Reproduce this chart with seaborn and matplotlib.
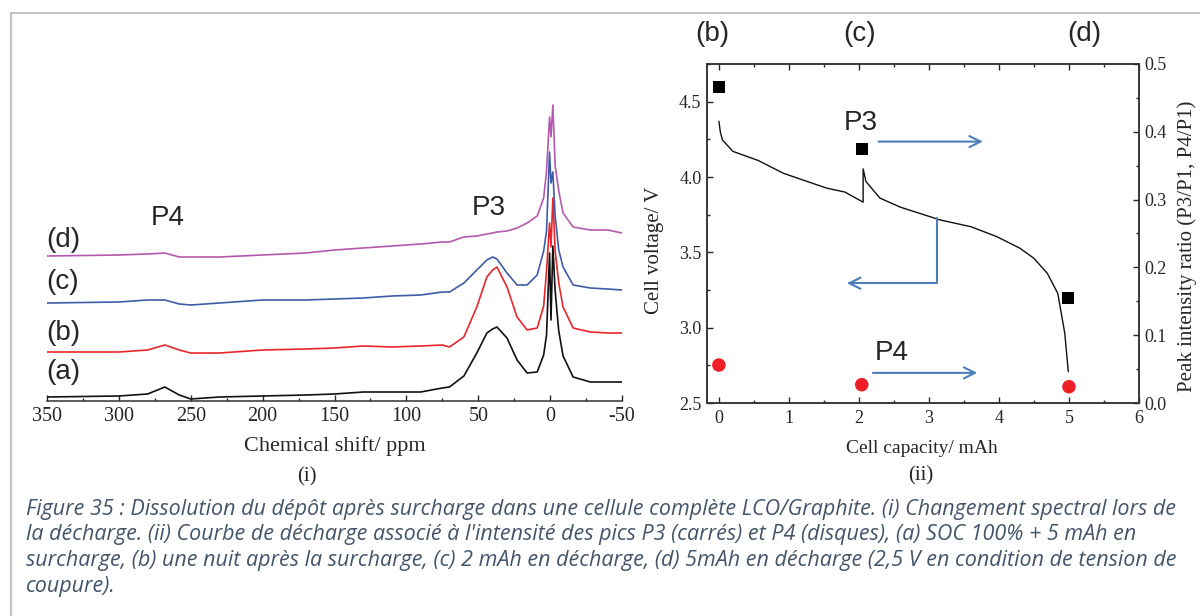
import numpy as np
import pandas as pd
import matplotlib
matplotlib.use("Agg")
import matplotlib.pyplot as plt
import seaborn as sns
from matplotlib.ticker import MultipleLocator
from matplotlib.lines import Line2D

# ---- (i) NMR spectra (intensity in arbitrary units) ----
ppm = [350, 300, 280, 268, 258, 250, 230, 200, 170, 150, 130, 110, 90, 75, 70,
       60, 51, 44, 40, 37, 30, 23, 16, 9, 4.5, 2.5, 0.4, -0.6, -1.9, -3.5, -6,
       -9, -16, -28, -40, -50]
spec_a = [4, 5, 7, 14, 6, 2, 4, 5, 6, 7, 9, 9, 9, 13, 14,
          25, 48, 68, 72, 74, 63, 41, 28, 29, 46, 66, 148, 81, 155, 110, 70,
          45, 24, 19, 19, 19]
spec_b = [49, 49, 51, 56, 51, 48, 48, 51, 52, 53, 55, 54, 55, 56, 54,
          64, 94, 124, 131, 134, 114, 84, 71, 73, 95, 130, 178, 154, 203, 150, 118,
          94, 73, 69, 68, 68]
spec_c = [98, 99, 101, 101, 97, 96, 98, 101, 101, 102, 103, 105, 106, 109, 109,
          118, 131, 141, 144, 142, 128, 116, 116, 126, 150, 170, 249, 218, 229, 185, 151,
          134, 116, 113, 112, 111]
spec_d = [145, 146, 147, 148, 144, 144, 144, 146, 148, 151, 153, 155, 157, 159, 159,
          164, 165, 167, 168, 169, 170, 173, 178, 185, 203, 230, 284, 264, 296, 235, 210,
          188, 174, 171, 171, 168]
spec_names = ["(a)", "(b)", "(c)", "(d)"]
spec_colors = ["#111111", "#E8262B", "#3F5BA9", "#B459B0"]

# ---- (ii) discharge curve and peak ratios ----
capacity = [0.0, 0.02, 0.05, 0.2, 0.56, 0.92, 1.2, 1.54, 1.8, 2.06, 2.06, 2.1,
            2.3, 2.59, 3.16, 3.6, 3.97, 4.3, 4.5, 4.69, 4.84, 4.94, 4.99]
voltage = [4.37, 4.30, 4.246, 4.17, 4.11, 4.025, 3.98, 3.926, 3.90, 3.833, 4.054, 3.97,
           3.86, 3.80, 3.715, 3.67, 3.604, 3.527, 3.46, 3.361, 3.228, 2.963, 2.708]
p3_cap = [0.0, 2.04, 4.99]
p3_ratio = [0.466, 0.375, 0.155]
p4_cap = [0.0, 2.04, 5.0]
p4_ratio = [0.056, 0.027, 0.024]

caption = [
    "Figure 35 : Dissolution du dépôt après surcharge dans une cellule complète LCO/Graphite. (i) Changement spectral lors de",
    "la décharge. (ii) Courbe de décharge associé à l'intensité des pics P3 (carrés) et P4 (disques), (a) SOC 100% + 5 mAh en",
    "surcharge, (b) une nuit après la surcharge, (c) 2 mAh en décharge, (d) 5mAh en décharge (2,5 V en condition de tension de",
    "coupure).",
]

sns.set_style("ticks")
plt.rcParams["font.family"] = ["Liberation Serif", "DejaVu Serif"]
plt.rcParams["axes.unicode_minus"] = False
plt.rcParams["axes.edgecolor"] = "#333333"
plt.rcParams["axes.linewidth"] = 1.1

W, H = 1200, 616
fig = plt.figure(figsize=(W / 100, H / 100), dpi=100)
ax1 = fig.add_axes([47 / W, 1 - 401 / H, 575 / W, 301 / H])
ax2 = fig.add_axes([707 / W, 1 - 403 / H, 432 / W, 339 / H])
ax3 = ax2.twinx()

# ---------------- panel (i) ----------------
spec = pd.DataFrame({
    "ppm": ppm * 4,
    "intensity": spec_a + spec_b + spec_c + spec_d,
    "spectrum": np.repeat(spec_names, len(ppm)),
})
sns.lineplot(data=spec, x="ppm", y="intensity", hue="spectrum",
             palette=dict(zip(spec_names, spec_colors)), estimator=None,
             sort=False, legend=False, lw=1.2, ax=ax1)
ax1.set_xlim(350, -50)
ax1.set_ylim(0, 301)
for s in ["left", "top", "right"]:
    ax1.spines[s].set_visible(False)
ax1.set_yticks([])
ax1.xaxis.set_major_locator(MultipleLocator(50))
ax1.xaxis.set_minor_locator(MultipleLocator(25))
ax1.tick_params(axis="x", which="major", direction="in", length=4.5, width=1, labelsize=14.5, pad=4)
ax1.tick_params(axis="x", which="minor", direction="in", length=2.2, width=1)
ax1.set_xlabel("Chemical shift/ ppm", fontsize=16)
ax1.set_ylabel("")
ax1.xaxis.set_label_coords(0.5, -0.118)

label_pos = {"(a)": 29, "(b)": 68, "(c)": 119, "(d)": 161}
for name, yv in label_pos.items():
    ax1.text(339, yv, name, family="Liberation Sans", fontsize=20, ha="center", va="center")
ax1.text(266, 183, "P4", family="Liberation Sans", fontsize=20, ha="center", va="center")
ax1.text(43, 193, "P3", family="Liberation Sans", fontsize=20, ha="center", va="center")

# ---------------- panel (ii) ----------------
curve = pd.DataFrame({"capacity": capacity, "voltage": voltage})
sns.lineplot(data=curve, x="capacity", y="voltage", estimator=None, sort=False,
             color="#111111", lw=1.0, ax=ax2)
sns.scatterplot(x=p3_cap, y=p3_ratio, marker="s", s=75, color="black",
                edgecolor="none", ax=ax3, zorder=5)
sns.scatterplot(x=p4_cap, y=p4_ratio, marker="o", s=95, color="#EE1F26",
                edgecolor="none", ax=ax3, zorder=5)

ax2.set_xlim(-0.17, 6)
ax2.set_ylim(2.5, 4.75)
ax3.set_ylim(0, 0.5)
ax2.xaxis.set_major_locator(MultipleLocator(1))
ax2.xaxis.set_minor_locator(MultipleLocator(0.5))
ax2.yaxis.set_major_locator(MultipleLocator(0.5))
ax2.yaxis.set_minor_locator(MultipleLocator(0.25))
ax3.yaxis.set_major_locator(MultipleLocator(0.1))
ax3.yaxis.set_minor_locator(MultipleLocator(0.05))
ax2.yaxis.set_major_formatter(plt.FormatStrFormatter("%.1f"))
ax3.yaxis.set_major_formatter(plt.FormatStrFormatter("%.1f"))

ax2.tick_params(axis="x", which="both", direction="in", top=True, labelsize=13, pad=5, width=1)
ax2.tick_params(axis="y", which="both", direction="in", right=False, labelsize=13, pad=4, width=1)
ax3.tick_params(axis="y", which="both", direction="in", labelsize=13, pad=4, width=1)
for a in (ax2, ax3):
    a.tick_params(which="major", length=4.3)
    a.tick_params(which="minor", length=2.4)

ax2.set_xlabel("Cell capacity/ mAh", fontsize=14)
ax2.set_ylabel("Cell voltage/ V", fontsize=15)
ax3.set_ylabel("Peak intensity ratio (P3/P1, P4/P1)", fontsize=15)
ax2.xaxis.set_label_coords(0.498, -0.108)
ax2.yaxis.set_label_coords(-0.100, 0.451)
ax3.yaxis.set_label_coords(1.088, 0.463)

for xv, lab in zip([-0.09, 2.01, 5.22], ["(b)", "(c)", "(d)"]):
    ax2.text(xv, 1.088, lab, transform=ax2.get_xaxis_transform(),
             family="Liberation Sans", fontsize=20, ha="center", va="center")

arrow_kw = dict(arrowstyle="->,head_length=0.8,head_width=0.4", color="#4A7EBB",
                lw=1.5, shrinkA=0, shrinkB=0)
ax2.text(2.03, 4.357, "P3", family="Liberation Sans", fontsize=20, ha="center", va="center")
ax2.annotate("", xy=(3.77, 4.235), xytext=(2.28, 4.235), arrowprops=arrow_kw)
ax2.text(2.47, 2.83, "P4", family="Liberation Sans", fontsize=20, ha="center", va="center")
ax2.annotate("", xy=(3.69, 2.70), xytext=(2.2, 2.70), arrowprops=arrow_kw)
ax2.annotate("", xy=(1.83, 3.295), xytext=(3.12, 3.726),
             arrowprops=dict(connectionstyle="angle,angleA=90,angleB=0,rad=0", **arrow_kw))

# ---------------- panel tags, caption, page frame ----------------
fig.text(307 / W, 1 - 477 / H, "(i)", fontsize=15, ha="center", va="center")
fig.text(921 / W, 1 - 476 / H, "(ii)", fontsize=15, ha="center", va="center")

for i, line in enumerate(caption):
    fig.text(26 / W, 1 - (509 + 25.8 * i) / H, line, family="Open Sans", style="italic",
             fontsize=15.5, color="#44546A", ha="left", va="center")

fig.add_artist(Line2D([10.5 / W, 1], [1 - 13 / H, 1 - 13 / H], color="#C4C4C4", lw=1.4))
fig.add_artist(Line2D([10.5 / W, 10.5 / W], [0, 1 - 13 / H], color="#C4C4C4", lw=1.6))

fig.savefig("out.png", dpi=100)
